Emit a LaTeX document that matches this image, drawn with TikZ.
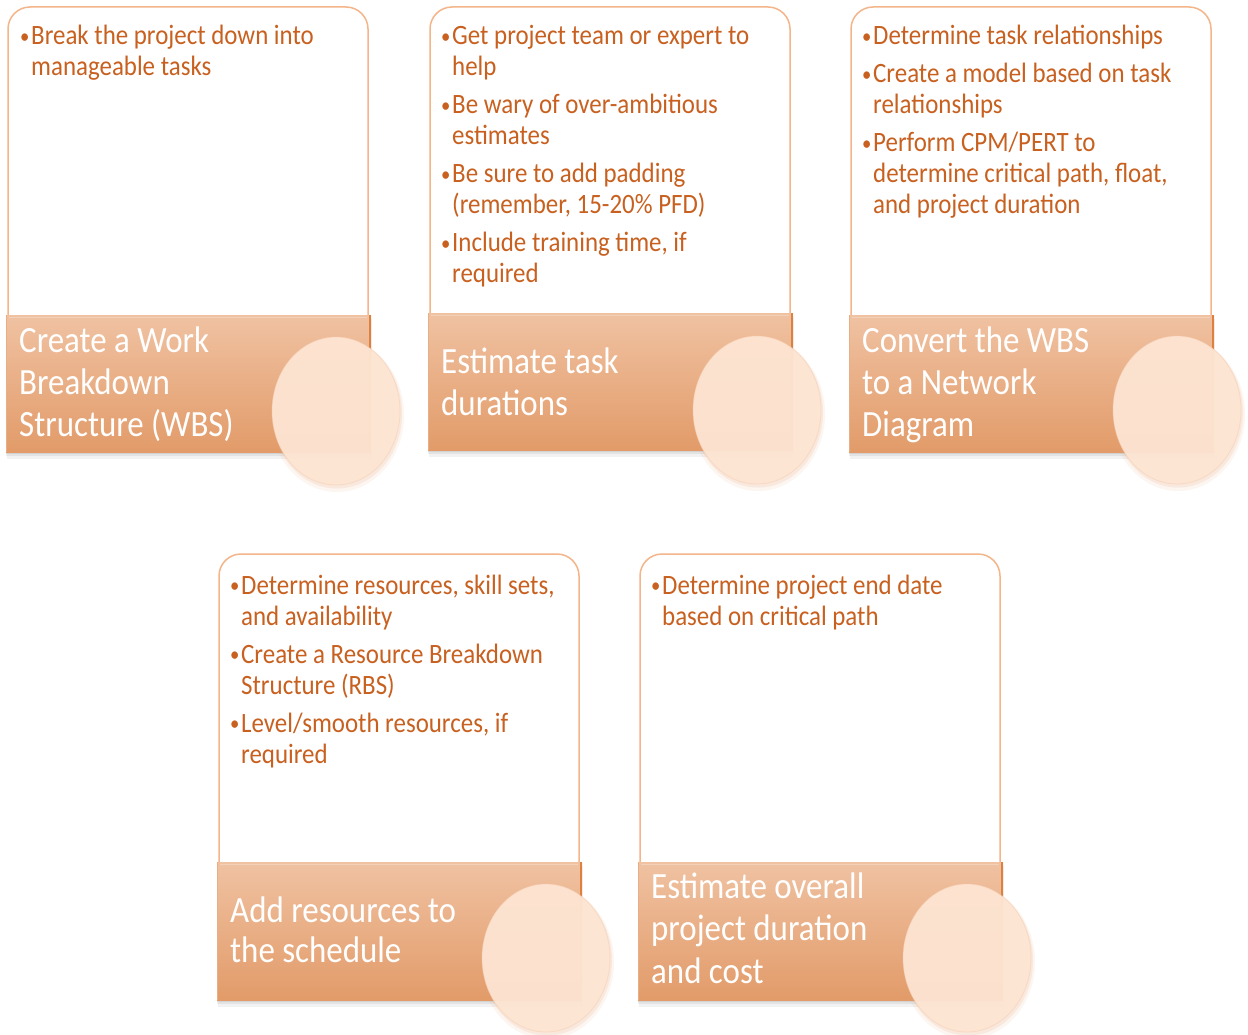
\documentclass[tikz,border=0pt]{standalone}
\usepackage{fontspec}
\setmainfont{Carlito}[FakeStretch=0.89]
\usetikzlibrary{calc}
\definecolor{cardline}{HTML}{F4B58A}
\definecolor{cardtext}{HTML}{C8601F}
\definecolor{bandtop}{HTML}{F0C2A2}
\definecolor{bandbot}{HTML}{E29B69}
\definecolor{bandedge}{HTML}{E0803F}
\definecolor{circfill}{HTML}{FDE5D3}
\definecolor{circedge}{HTML}{F6CBAE}
\definecolor{circshadow}{HTML}{E9A273}
\tikzset{
  cardtxt/.style={anchor=base west, inner sep=0pt, text=cardtext, font=\fontsize{28}{31}\selectfont},
  bandtxt/.style={anchor=base west, inner sep=0pt, text=white, font=\fontsize{37}{42}\selectfont},
}
\newcommand\bulletlist[1]{\parbox[t]{345pt}{\raggedright\parskip=7pt\parindent=0pt #1}}
\newcommand\bitem[1]{\par\hangindent=11pt\hangafter=1\makebox[11pt][l]{\raisebox{1.5pt}{\scalebox{0.75}{•}}}#1}
\newcommand\bandlines[2]{\parbox[t]{330pt}{\raggedright\fontsize{37}{#1}\selectfont #2}}
% #1 card left, #2 card top, #3 band top, #4 band bottom, #5 circle cx, #6 circle cy
\newcommand\stagebox[6]{%
  % card
  \draw[cardline, line width=1.5pt, fill=white, rounded corners=22pt]
     (#1,#3) -- (#1,#2) -- ({#1+360},#2) -- ({#1+360},#3);
  % band shadow
  \fill[black, opacity=0.05] ({#1-1},{#3+4}) rectangle ({#1+364},{#4+7});
  \fill[black, opacity=0.06] ({#1-2},{#3+2}) rectangle ({#1+363},{#4+4});
  \fill[black, opacity=0.07] ({#1-2},{#3+1}) rectangle ({#1+363},{#4+2});
  % band
  \shade[top color=bandtop, bottom color=bandbot] ({#1-2},#3) rectangle ({#1+363},#4);
  \draw[bandedge, line width=2pt] ({#1+362},#3) -- ({#1+362},#4);
  \draw[bandbot!80!white, line width=0.8pt] ({#1-1.6},#3) -- ({#1-1.6},#4);
  \draw[white, opacity=0.25, line width=1pt] ({#1+1},{#3+2}) -- ({#1+359},{#3+2});
  % circle
  \fill[circshadow, opacity=0.10] ({#5+1},{#6+4}) ellipse [x radius=67, y radius=77];
  \fill[circshadow, opacity=0.15] ({#5+1},{#6+2.5}) ellipse [x radius=65, y radius=75];
  \fill[circfill, opacity=0.95] (#5,#6) ellipse [x radius=64, y radius=74];
  \draw[circedge, opacity=0.5, line width=0.8pt] (#5,#6) ellipse [x radius=64, y radius=74];
}
\begin{document}
\begin{tikzpicture}[x=1pt, y=-1pt]
\useasboundingbox (0,0) rectangle (1248,1035);
\fill[white] (0,0) rectangle (1248,1035);

\stagebox{8}{7}{315}{452}{336}{411}
\stagebox{430}{7}{313}{450}{757}{410}
\stagebox{851}{7}{315}{452}{1177}{410}
\stagebox{219}{554}{862}{1000}{546}{958}
\stagebox{640}{554}{862}{1000}{967}{958}

% card texts
\node[cardtxt] (t1) at (20,45) {\bulletlist{%
  \bitem{Break the project down into\newline manageable tasks}}};
\node[cardtxt] (t2) at (441,45) {\bulletlist{%
  \bitem{Get project team or expert to\newline help}
  \bitem{Be wary of over-ambitious\newline estimates}
  \bitem{Be sure to add padding\newline (remember, 15-20\% PFD)}
  \bitem{Include training time, if\newline required}}};
\node[cardtxt] (t3) at (862,45) {\bulletlist{%
  \bitem{Determine task relationships}
  \bitem{Create a model based on task\newline relationships}
  \bitem{Perform CPM/PERT to\newline determine critical path, float,\newline and project duration}}};
\node[cardtxt] (t4) at (230,594) {\bulletlist{%
  \bitem{Determine resources, skill sets,\newline and availability}
  \bitem{Create a Resource Breakdown\newline Structure (RBS)}
  \bitem{Level/smooth resources, if\newline required}}};
\node[cardtxt] (t5) at (651,594) {\bulletlist{%
  \bitem{Determine project end date\newline based on critical path}}};

% band texts
\node[bandtxt] (b1) at (19,352) {\bandlines{42}{Create a Work\\Breakdown\\Structure (WBS)}};
\node[bandtxt] (b2) at (441,373) {\bandlines{42}{Estimate task\\durations}};
\node[bandtxt] (b3) at (862,352) {\bandlines{42}{Convert the WBS\\to a Network\\Diagram}};
\node[bandtxt] (b4) at (230,922) {\bandlines{40}{Add resources to\\the schedule}};
\node[bandtxt] (b5) at (651,898) {\bandlines{42.5}{Estimate overall\\project duration\\and cost}};
\end{tikzpicture}
\end{document}
